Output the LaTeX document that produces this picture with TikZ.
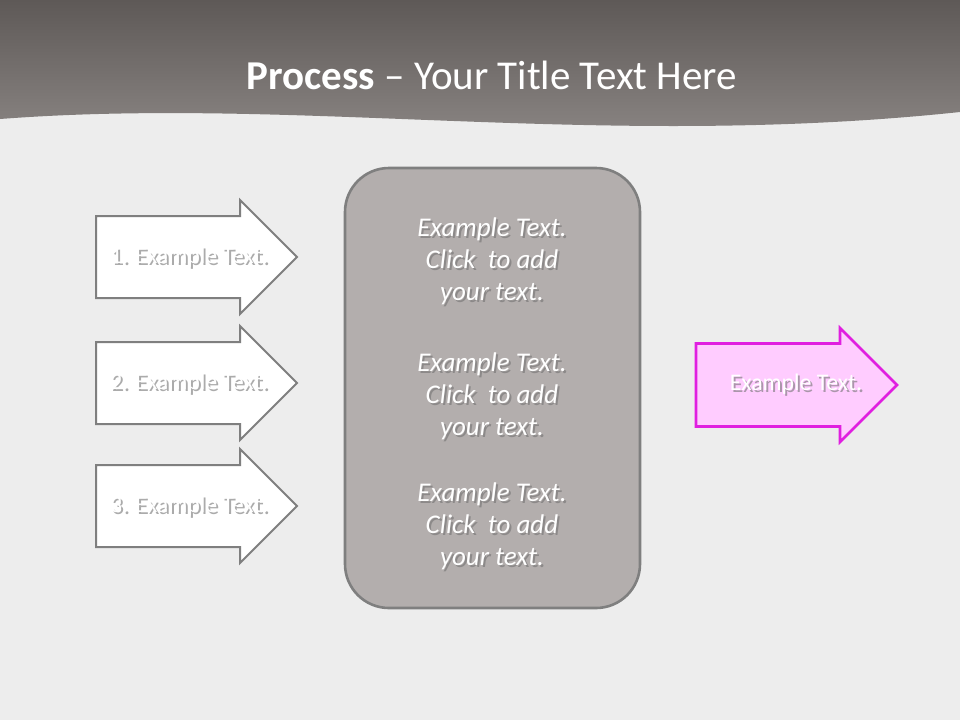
\documentclass[tikz,border=0pt]{standalone}
\usepackage{fontspec}
\setmainfont{Carlito}
\definecolor{paper}{HTML}{EDEDED}
\definecolor{headtop}{HTML}{5E5957}
\definecolor{headbot}{HTML}{8E8987}
\definecolor{stepline}{HTML}{7F7F7F}
\definecolor{panelfill}{HTML}{B3AEAD}
\definecolor{resultfill}{HTML}{FFCCFF}
\definecolor{resultline}{HTML}{E01FE0}
\begin{document}
\begin{tikzpicture}[x=0.5pt, y=-0.5pt, line join=miter]
            \tikzset{
              stepshape/.style={draw=stepline, line width=1pt, fill=white},
              resultshape/.style={draw=resultline, line width=1.3pt, fill=resultfill},
              panelbox/.style={draw=stepline, line width=1.3pt, fill=panelfill, rounded corners=22pt},
              labeltext/.style={text=white, font=\fontsize{11.9}{14}\selectfont, inner sep=0pt},
              labelshadow/.style={labeltext, text=black!55, opacity=.6},
              paneltext/.style={text=white, align=center, font=\itshape\fontsize{13.5}{16}\selectfont, inner sep=0pt},
              panelshadow/.style={paneltext, text=black!60, opacity=.5},
              titletext/.style={text=white, font=\fontsize{20.5}{24}\selectfont, inner sep=0pt}
            }
            \useasboundingbox (0,0) rectangle (960,720);
            % background and header band
            \fill[paper] (0,0) rectangle (960,720);
            \shade[top color=headtop, bottom color=headbot] (0,0) -- (960,0) -- (960,112)
                .. controls (600,150) and (300,96) .. (0,119) -- cycle;
            \node[titletext] (title) at (492,75) {\textbf{Process} -- Your Title Text Here};
            % input steps
            \foreach \i/\y in {1/257, 2/383, 3/506} {
              \draw[stepshape] (96,\y-41) -- (240,\y-41) -- (240,\y-57) -- (297,\y)
                  -- (240,\y+57) -- (240,\y+41) -- (96,\y+41) -- cycle;
              \node[labelshadow] at (191,\y+2.5) {\i. Example Text.};
              \node[labeltext] (step\i) at (189,\y) {\i. Example Text.};
            }
            % middle panel
            \draw[panelbox] (345,168) rectangle (640,608);
            \foreach \i/\y in {1/261, 2/396, 3/526} {
              \node[panelshadow] at (494,\y+2.5) {Example Text.\\Click\ \ to add\\your text.};
              \node[paneltext] (panel\i) at (492,\y) {Example Text.\\Click\ \ to add\\your text.};
            }
            % result
            \draw[resultshape] (696,343.5) -- (840,343.5) -- (840,328) -- (897,385)
                -- (840,442) -- (840,426.5) -- (696,426.5) -- cycle;
            \node[labelshadow] at (798,386.5) {Example Text.};
            \node[labeltext] (result) at (796,384) {Example Text.};
        \end{tikzpicture}
\end{document}
